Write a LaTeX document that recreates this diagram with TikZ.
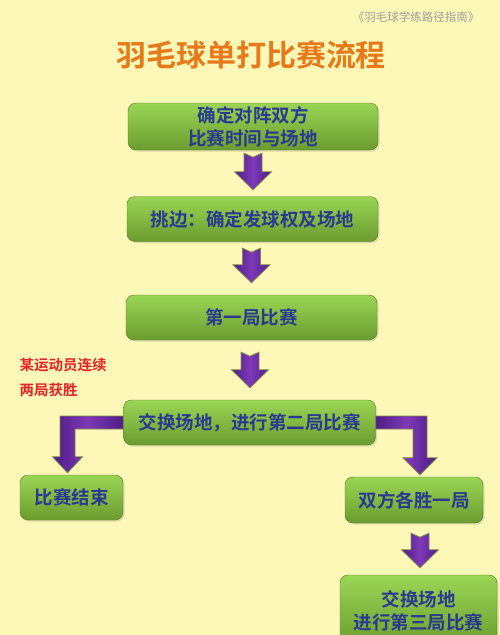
\documentclass[tikz,border=0pt]{standalone}
\usepackage{fontspec}
\newfontfamily\cjk{Noto Sans CJK SC}
\newfontfamily\cjkb{Noto Sans CJK SC Bold}
\usetikzlibrary{calc,shadows}
\definecolor{bgyel}{HTML}{FDF8B8}
\definecolor{gtop}{HTML}{9AD555}
\definecolor{gbot}{HTML}{6B9C2F}
\definecolor{txtblue}{HTML}{2B3990}
\definecolor{ttlorange}{HTML}{E8791A}
\definecolor{redtxt}{HTML}{E8222A}
\definecolor{pdark}{HTML}{4E1D85}
\definecolor{plight}{HTML}{7E38B8}
\definecolor{parrowline}{HTML}{7E8A4A}
\tikzset{
  x=1pt,y=1pt,
  stepbox/.style={rectangle, rounded corners=8pt, top color=gtop, bottom color=gbot,
    draw=gbot!80!black, line width=0.4pt, drop shadow={shadow xshift=1.5pt, shadow yshift=-1.5pt, opacity=0.25},
    font=\cjkb\fontsize{18.5}{23}\selectfont, text=txtblue, align=center, inner sep=0pt},
  barrow/.style={left color=pdark, right color=pdark, middle color=plight, draw=parrowline, line width=0.8pt, line join=miter},
}
% vertical block arrow: #1 = top point, #2 = tip point
\newcommand\vblock[2]{%
  \path[barrow] let \p1=(#1), \p2=(#2) in
    (\x1-9pt,\y1) -- (\x1,\y1-4pt) -- (\x1+9pt,\y1) -- (\x1+9pt,\y2+18pt) -- (\x1+18.5pt,\y2+18pt)
    -- (\x1,\y2) -- (\x1-18.5pt,\y2+18pt) -- (\x1-9pt,\y2+18pt) -- cycle;}
\begin{document}
\begin{tikzpicture}
\useasboundingbox (0,0) rectangle (500,-635);
\fill[bgyel] (0,0) rectangle (500,-635);

\node[font=\cjk\fontsize{11.5}{12}\selectfont, text=black!38] (src) at (416,-17) {《羽毛球学练路径指南》};
\node[font=\cjkb\fontsize{30}{32}\selectfont, text=ttlorange] (ttl) at (251,-55) {羽毛球单打比赛流程};

\node[font=\cjkb\fontsize{14.5}{16}\selectfont, text=redtxt, anchor=west] (r1) at (16,-365) {某运动员连续};
\node[font=\cjkb\fontsize{14.5}{16}\selectfont, text=redtxt, anchor=west] (r2) at (16,-390) {两局获胜};

\node[stepbox, minimum width=250, minimum height=47] (b1) at (253,-126.5) {确定对阵双方\\比赛时间与场地};
\node[stepbox, minimum width=251, minimum height=45] (b2) at (252.5,-219) {挑边：确定发球权及场地};
\node[stepbox, minimum width=251, minimum height=45] (b3) at (251.5,-317.5) {第一局比赛};
\node[stepbox, minimum width=252, minimum height=45] (b4) at (249.5,-422.5) {交换场地，进行第二局比赛};
\node[stepbox, minimum width=103, minimum height=45] (b5) at (71.5,-497.5) {比赛结束};
\node[stepbox, minimum width=138, minimum height=46] (b6) at (414,-500) {双方各胜一局};
\node[stepbox, minimum width=157, minimum height=72] (b7) at (418.5,-611) {交换场地\\进行第三局比赛};

\vblock{$(b1.south)+(0,-3)$}{$(b2.north)+(0,6.5)$}
\vblock{$(b2.south)+(-1,-6.5)$}{$(b3.north)+(0,12)$}
\vblock{$(b3.south)+(-1.5,-12)$}{$(b4.north)+(0,12)$}
\vblock{$(b6.south)+(6,-10)$}{$(b7.north)+(1.5,7)$}

% left elbow arrow: from b4 west down to b5
\path[barrow] let \p1=(b4.west), \p2=($(b5.north)+(-4,2)$) in
  (\x1,\y1+6.5pt) -- (\x2-7.5pt,\y1+6.5pt) -- (\x2-7.5pt,\y2+16pt) -- (\x2-15pt,\y2+16pt)
  -- (\x2,\y2) -- (\x2+15pt,\y2+16pt) -- (\x2+7.5pt,\y2+16pt) -- (\x2+7.5pt,\y1-6.5pt)
  -- (\x1,\y1-6.5pt) -- cycle;
% right elbow arrow: from b4 east down to b6
\path[barrow] let \p1=(b4.east), \p2=($(b6.north)+(6,2)$) in
  (\x1,\y1+6.5pt) -- (\x2+7pt,\y1+6.5pt) -- (\x2+7pt,\y2+17pt) -- (\x2+17pt,\y2+17pt)
  -- (\x2,\y2) -- (\x2-17pt,\y2+17pt) -- (\x2-7pt,\y2+17pt) -- (\x2-7pt,\y1-6.5pt)
  -- (\x1,\y1-6.5pt) -- cycle;
\end{tikzpicture}
\end{document}
